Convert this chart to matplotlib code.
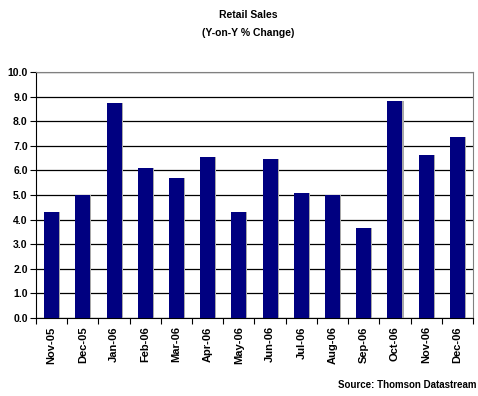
import matplotlib
matplotlib.use("Agg")
import matplotlib.pyplot as plt
import numpy as np

months = ["Nov-05", "Dec-05", "Jan-06", "Feb-06", "Mar-06", "Apr-06", "May-06",
          "Jun-06", "Jul-06", "Aug-06", "Sep-06", "Oct-06", "Nov-06", "Dec-06"]
values = [4.32, 5.0, 8.73, 6.08, 5.68, 6.56, 4.30, 6.45, 5.07, 5.0, 3.65, 8.81, 6.64, 7.35]
yticks = [0, 1, 2, 3, 4, 5, 6, 7, 8, 9, 10]

plt.rcParams['font.family'] = ['Liberation Sans', 'DejaVu Sans']

fig = plt.figure(figsize=(4.78, 3.96), dpi=100)
ax = fig.add_axes([0.0753, 0.197, 0.9142, 0.621])

x = np.arange(len(months))
# shadow
ax.bar(x + 0.035, values, width=0.48, color="#a8a8a8", zorder=2)
ax.bar(x, values, width=0.48, color="#000080", zorder=3)

ax.set_xlim(-0.5, len(months) - 0.5)
ax.set_ylim(0, 10)
ax.set_yticks(yticks)
ax.set_yticklabels([f"{v:.1f}" for v in yticks], fontsize=7.5, fontweight="bold")
ax.yaxis.grid(True, color="black", linewidth=0.9, zorder=1)
ax.set_axisbelow(True)

ax.set_xticks(np.arange(-0.5, len(months), 1.0))
ax.set_xticklabels([])
ax.set_xticks(x, minor=True)
ax.set_xticklabels(months, minor=True, rotation=90, fontsize=8, fontweight="bold")
ax.tick_params(axis="x", which="minor", length=0, pad=6)
ax.tick_params(axis="x", which="major", length=4, direction="out", color="black")
ax.tick_params(axis="y", length=4, direction="out", pad=2)

for s in ["top", "right"]:
    ax.spines[s].set_color("#808080")
ax.spines["left"].set_color("black")
ax.spines["bottom"].set_color("black")

fig.text(0.519, 0.963, "Retail Sales", ha="center", va="center", fontsize=7.5, fontweight="bold")
fig.text(0.519, 0.916, "(Y-on-Y % Change)", ha="center", va="center", fontsize=7.5, fontweight="bold")
fig.text(0.997, 0.028, "Source: Thomson Datastream", ha="right", va="center", fontsize=7, fontweight="bold")

fig.savefig("out.png", dpi=100)
